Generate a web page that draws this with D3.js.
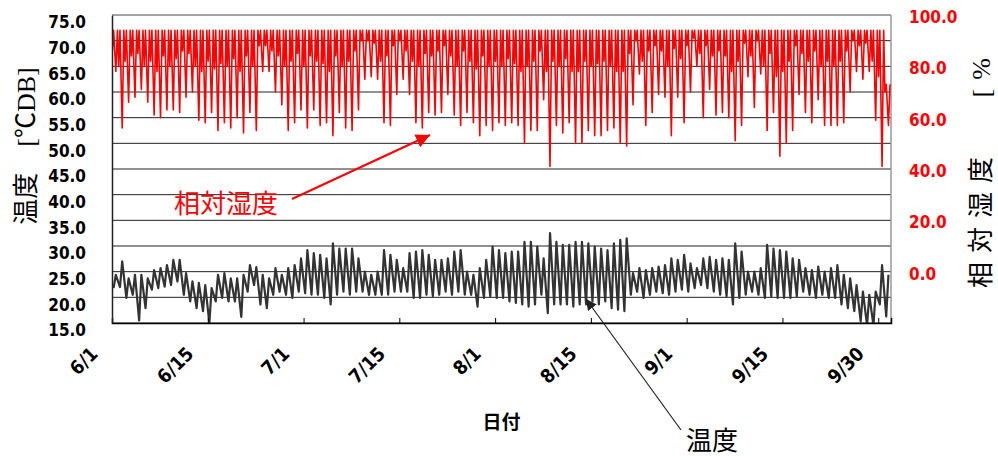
<!DOCTYPE html>
<meta charset="utf-8">
<title>温度・相対湿度</title>
<style>
body { margin: 0; background: #fff; }
svg { display: block; }
.tick-lbl { font-family: "DejaVu Sans Condensed", "DejaVu Sans", sans-serif; font-weight: bold; }
.jp { font-family: "Liberation Serif", "Noto Sans CJK JP", serif; }
</style>
<svg id="chart"></svg>
<script src="https://cdn.jsdelivr.net/npm/d3@7"></script>
<script>
// daily values, 6/1 .. 9/30 (122 days)
var rhMax = [
	94,94,94,94,94,94,94,94,94,94,94,94,94,94,94,94,94,94,94,94,
	94,94,94,94,94,94,94,94,94,94,94,94,94,94,94,94,94,94,94,94,
	94,94,94,94,94,94,94,94,94,94,94,94,94,94,94,94,94,94,94,94,
	94,94,94,94,94,94,94,94,94,94,94,94,94,94,94,94,94,94,94,94,
	94,94,94,94,94,94,94,94,94,94,94,94,94,94,94,94,94,94,94,94,
	94,94,94,94,94,94,94,94,94,94,94,94,94,94,94,94,94,94,94,94,
	94,73
];
// night-time dip
var rhNight = [
	86,80,82,84,85,80,82,78,84,80,83,86,85,80,78,82,79,81,80,83,
	78,84,80,88,88,86,84,80,82,85,80,84,82,81,78,84,80,82,86,90,
	90,89,82,84,88,90,86,82,80,85,84,86,88,84,80,86,82,79,84,80,
	82,80,83,81,78,80,82,86,78,82,80,83,78,78,82,80,81,82,80,78,
	78,85,90,82,86,88,86,80,87,83,88,91,85,88,84,86,84,78,82,89,
	84,90,80,85,76,78,82,88,85,82,86,80,82,80,82,86,90,88,89,82,
	76,70
];
// afternoon minimum
var rhMin = [
	78,56,66,68,71,66,61,60,63,63,62,68,70,59,58,62,55,58,56,60,
	54,62,55,78,78,70,65,55,58,63,56,63,57,58,53,62,56,55,63,75,
	76,75,58,57,69,75,69,58,56,62,61,62,69,61,57,62,58,53,57,55,
	58,57,58,57,50,55,55,67,41,57,54,58,50,50,55,53,53,55,56,50,
	49,65,77,57,62,69,68,53,68,58,70,80,60,71,61,62,60,51,57,76,
	64,77,55,62,45,50,55,69,62,58,67,57,57,57,58,70,78,75,78,59,
	41,57
];
var tMax = [
	24.4,27.0,23.7,24.4,24.4,23.7,25.3,25.7,26.3,27.3,27.3,24.7,23.1,22.8,22.4,21.8,24.4,24.7,23.7,23.7,
	24.4,26.3,25.9,24.4,23.7,25.7,24.4,25.7,26.3,27.6,29.2,28.6,28.3,27.6,30.5,29.5,29.5,29.5,27.6,25.0,
	24.4,25.0,29.2,28.3,27.3,25.7,28.6,28.9,29.2,28.3,27.3,27.3,27.6,28.9,29.2,25.0,24.4,25.7,27.3,29.9,
	29.2,28.6,28.9,28.9,30.8,30.8,29.9,27.6,32.5,30.8,30.2,30.2,30.8,30.8,30.5,29.9,29.5,29.2,30.5,31.2,
	31.5,24.7,25.7,25.3,25.7,26.0,26.3,27.6,27.3,28.3,26.6,25.7,27.6,27.9,27.3,27.6,27.3,30.5,28.9,25.0,
	25.0,25.7,30.2,29.5,29.2,28.9,27.6,27.3,25.7,25.3,26.0,25.0,25.7,26.3,24.4,23.7,22.4,21.1,20.5,21.1,
	26.3,24.4
];
var tMin = [
	21.8,22.0,19.9,20.5,15.5,17.9,21.5,21.8,22.1,22.4,23.1,20.5,19.2,17.9,17.3,15.0,19.2,19.9,19.2,19.2,
	16.2,21.1,22.4,18.6,17.9,20.5,21.1,20.5,19.9,21.1,20.8,20.5,20.5,19.9,18.6,20.5,21.1,20.5,21.1,21.1,
	20.5,20.5,20.5,20.5,21.1,21.1,21.1,19.9,19.9,20.5,20.2,20.5,21.1,20.5,21.1,20.5,20.5,18.2,19.9,20.2,
	19.9,19.9,19.2,18.9,18.6,18.2,18.6,20.5,16.9,18.6,18.6,18.6,18.2,18.6,18.6,19.2,18.6,19.2,17.9,17.6,
	17.3,20.5,21.1,19.9,20.5,21.1,20.8,20.5,21.1,21.5,21.1,21.8,22.4,21.8,21.1,20.5,20.2,18.6,19.9,20.5,
	21.1,20.5,19.9,20.2,19.9,19.9,19.9,20.2,21.1,20.5,19.9,20.5,19.9,19.9,18.6,17.9,17.3,15.3,14.5,14.5,
	18.6,16.3
];
var tickDays = [0, 15, 30, 45, 60, 75, 90, 105, 120];
var tickLabels = ["6/1", "6/15", "7/1", "7/15", "8/1", "8/15", "9/1", "9/15", "9/30"];
var tempTicks = [15, 20, 25, 30, 35, 40, 45, 50, 55, 60, 65, 70, 75];
var rhTicks = [0, 20, 40, 60, 80, 100];

var width = 998, height = 456;
var m = {left: 112, right: 891, top: 15, bottom: 323};

var svg = d3.select('#chart')
	.attr('width', width)
	.attr('height', height)

var x = d3.scaleLinear().domain([0, 122]).range([m.left, m.right])
var y = d3.scaleLinear().domain([15, 75]).range([m.bottom, m.top])
var y2 = d3.scaleLinear().domain([-20, 100]).range([m.bottom, m.top])

svg.append('clipPath').attr('id', 'plotclip')
	.append('rect')
	.attr('x', m.left).attr('y', m.top)
	.attr('width', m.right - m.left).attr('height', m.bottom - m.top)

// gridlines
svg.append('g')
	.selectAll('line')
	.data(tempTicks)
	.enter().append('line')
	.attr('x1', m.left).attr('x2', m.right)
	.attr('y1', d => y(d)).attr('y2', d => y(d))
	.attr('stroke', '#222')
	.attr('stroke-width', 1)

// frame
svg.append('line').attr('x1', m.left).attr('x2', m.right).attr('y1', m.top).attr('y2', m.top)
	.attr('stroke', '#aaa').attr('stroke-width', 1.5)
svg.append('line').attr('x1', m.right).attr('x2', m.right).attr('y1', m.top).attr('y2', m.bottom)
	.attr('stroke', '#999').attr('stroke-width', 1.5)

// series
var rhPts = [], tPts = [];
rhMin.forEach(function(v, i) {
	rhPts.push([i + 0.05, rhNight[i]]);
	rhPts.push([i + 0.25, rhMax[i]]);
	rhPts.push([i + 0.6, v]);
	rhPts.push([i + 0.85, rhMax[i]]);
	tPts.push([i + 0.25, tMin[i]]);
	tPts.push([i + 0.6, tMax[i]]);
});

var plot = svg.append('g').attr('clip-path', 'url(#plotclip)')

plot.append('path')
	.datum(tPts)
	.attr('fill', 'none')
	.attr('stroke', '#333')
	.attr('stroke-width', 2.2)
	.attr('stroke-linejoin', 'round')
	.attr('d', d3.line().x(d => x(d[0])).y(d => y(d[1])))

plot.append('path')
	.datum(rhPts)
	.attr('fill', 'none')
	.attr('stroke', '#ff0000')
	.attr('stroke-width', 1.6)
	.attr('stroke-linejoin', 'round')
	.attr('d', d3.line().x(d => x(d[0])).y(d => y2(d[1])))

// axes
var xAxis = svg.append('g')
	.attr('transform', 'translate(0,' + m.bottom + ')')
	.call(d3.axisBottom(x).tickValues(tickDays).tickSize(-5).tickFormat(''))
xAxis.select('.domain').attr('stroke', '#000').attr('stroke-width', 1.5)
xAxis.selectAll('.tick line').attr('stroke', '#000')

svg.append('g')
	.selectAll('text')
	.data(tickDays)
	.enter().append('text')
	.attr('class', 'tick-lbl')
	.attr('fill', '#000')
	.attr('font-size', 19)
	.attr('text-anchor', 'end')
	.attr('transform', d => 'translate(' + (x(d) - 13) + ',' + (m.bottom + 32) + ') rotate(-45)')
	.text((d, i) => tickLabels[i])

var yAxis = svg.append('g')
	.attr('transform', 'translate(' + m.left + ',0)')
	.call(d3.axisLeft(y).tickValues(tempTicks).tickSize(0).tickPadding(26).tickFormat(d3.format('.1f')))
yAxis.select('.domain').attr('stroke', '#222').attr('stroke-width', 1.5)
yAxis.selectAll('text')
	.attr('class', 'tick-lbl')
	.attr('font-size', 17)
	.attr('fill', '#000')
	.attr('dy', '0.75em')

var y2Axis = svg.append('g')
	.attr('transform', 'translate(' + m.right + ',0)')
	.call(d3.axisRight(y2).tickValues(rhTicks).tickSize(0).tickPadding(18).tickFormat(d3.format('.1f')))
y2Axis.select('.domain').remove()
y2Axis.selectAll('text')
	.attr('class', 'tick-lbl')
	.attr('font-size', 17)
	.attr('fill', '#ff0000')
	.attr('dy', '0.45em')

// axis titles
svg.append('text')
	.attr('class', 'jp')
	.attr('transform', 'translate(35,146) rotate(-90)')
	.attr('text-anchor', 'middle')
	.attr('font-size', 26)
	.text('温度　[℃DB]')

svg.append('text')
	.attr('class', 'jp')
	.attr('transform', 'translate(990,288) rotate(-90)')
	.attr('text-anchor', 'start')
	.attr('font-size', 26)
	.attr('letter-spacing', 9)
	.text('相対湿度　 [%')

svg.append('text')
	.attr('x', (m.left + m.right) / 2)
	.attr('y', 429)
	.attr('text-anchor', 'middle')
	.attr('font-family', '"Noto Sans CJK JP", sans-serif')
	.attr('font-weight', 'bold')
	.attr('font-size', 19)
	.text('日付')

// annotations
var defs = svg.append('defs')
defs.append('marker').attr('id', 'headRed')
	.attr('viewBox', '0 0 10 10').attr('refX', 10).attr('refY', 5)
	.attr('markerWidth', 7).attr('markerHeight', 7).attr('markerUnits', 'strokeWidth')
	.attr('orient', 'auto')
	.append('path').attr('d', 'M0,0L10,5L0,10z').attr('fill', '#ff0000')
defs.append('marker').attr('id', 'headBlack')
	.attr('viewBox', '0 0 10 10').attr('refX', 10).attr('refY', 5)
	.attr('markerWidth', 9).attr('markerHeight', 9).attr('markerUnits', 'strokeWidth')
	.attr('orient', 'auto')
	.append('path').attr('d', 'M0,0L10,5L0,10z').attr('fill', '#222')

svg.append('line')
	.attr('x1', 292).attr('y1', 199).attr('x2', 430).attr('y2', 135)
	.attr('stroke', '#ff0000').attr('stroke-width', 2)
	.attr('marker-end', 'url(#headRed)')
svg.append('text')
	.attr('class', 'jp')
	.attr('x', 174).attr('y', 213)
	.attr('font-size', 26)
	.attr('fill', '#ff0000')
	.text('相対湿度')

svg.append('line')
	.attr('x1', 681).attr('y1', 430).attr('x2', 586).attr('y2', 299)
	.attr('stroke', '#222').attr('stroke-width', 1.2)
	.attr('marker-end', 'url(#headBlack)')
svg.append('text')
	.attr('class', 'jp')
	.attr('x', 686).attr('y', 450)
	.attr('font-size', 26)
	.attr('fill', '#000')
	.text('温度')
</script>
